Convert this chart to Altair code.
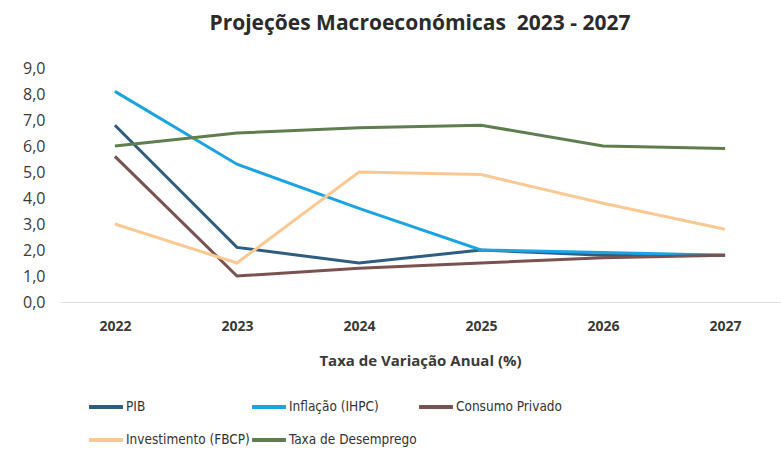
import altair as alt
import pandas as pd

years = ["2022", "2023", "2024", "2025", "2026", "2027"]
series_names = ["PIB", "Inflação (IHPC)", "Consumo Privado", "Investimento (FBCP)", "Taxa de Desemprego"]
pib = [6.8, 2.1, 1.5, 2.0, 1.8, 1.8]
inflacao = [8.1, 5.3, 3.6, 2.0, 1.9, 1.8]
consumo = [5.6, 1.0, 1.3, 1.5, 1.7, 1.8]
investimento = [3.0, 1.5, 5.0, 4.9, 3.8, 2.8]
desemprego = [6.0, 6.5, 6.7, 6.8, 6.0, 5.9]
colors = ["#2F5D80", "#1CA3E3", "#7A5250", "#F8C992", "#5F7E4F"]

# legend fills column by column (2 rows): order so rows read as in the reference
legend_order = ["PIB", "Investimento (FBCP)", "Inflação (IHPC)", "Taxa de Desemprego", "Consumo Privado"]
color_map = dict(zip(series_names, colors))

rows = []
for name, vals in zip(series_names, [pib, inflacao, consumo, investimento, desemprego]):
    for y, v in zip(years, vals):
        rows.append({"Ano": y, "Série": name, "Valor": v})
df = pd.DataFrame(rows)

legend_font = "'Liberation Sans Narrow', 'DejaVu Sans Condensed', 'Liberation Sans', sans-serif"

chart = alt.Chart(df).mark_line(strokeWidth=3).encode(
    x=alt.X("Ano:O", scale=alt.Scale(type="point", padding=0.45),
            axis=alt.Axis(title="Taxa de Variação Anual (%)", labelAngle=0,
                          labelFontSize=14, labelFontWeight="bold", labelColor="#3a3a3a",
                          labelPadding=17, ticks=False, domain=True, domainColor="#e2e2e2",
                          titleFontSize=15, titleFontWeight="bold", titleColor="#3a3a3a",
                          titlePadding=20, labelFont="Open Sans", titleFont="Open Sans")),
    y=alt.Y("Valor:Q", scale=alt.Scale(domain=[0, 9], nice=False),
            axis=alt.Axis(title=None, values=list(range(10)),
                          labelExpr="replace(format(datum.value, '.1f'), '.', ',')",
                          labelFontSize=16, labelColor="#3a3a3a", labelFont="Open Sans",
                          grid=False, domain=False, ticks=False, labelPadding=15)),
    color=alt.Color("Série:N",
                    scale=alt.Scale(domain=legend_order, range=[color_map[n] for n in legend_order]),
                    legend=alt.Legend(title=None, orient="none", legendX=27, legendY=320,
                                      columns=3, symbolType="stroke", symbolStrokeWidth=4,
                                      symbolSize=1150, labelFontSize=13.5, labelFont=legend_font,
                                      labelColor="#333333", gridAlign="each", columnPadding=-12,
                                      rowPadding=6, labelOffset=1, labelLimit=300)),
    order=alt.Order("Ano:O"),
).properties(
    width=720, height=234,
    title=alt.TitleParams("Projeções Macroeconómicas\u00a0\u00a02023 - 2027", fontSize=21,
                          font="Open Sans", fontWeight="bold", color="#2b2b2b",
                          anchor="middle", offset=26),
    autosize=alt.AutoSizeParams(type="none"),
    padding={"left": 60, "top": 68, "right": 1, "bottom": 148},
).configure_view(stroke=None)

chart.save("out.html", embed_options={"renderer": "svg", "actions": False})
